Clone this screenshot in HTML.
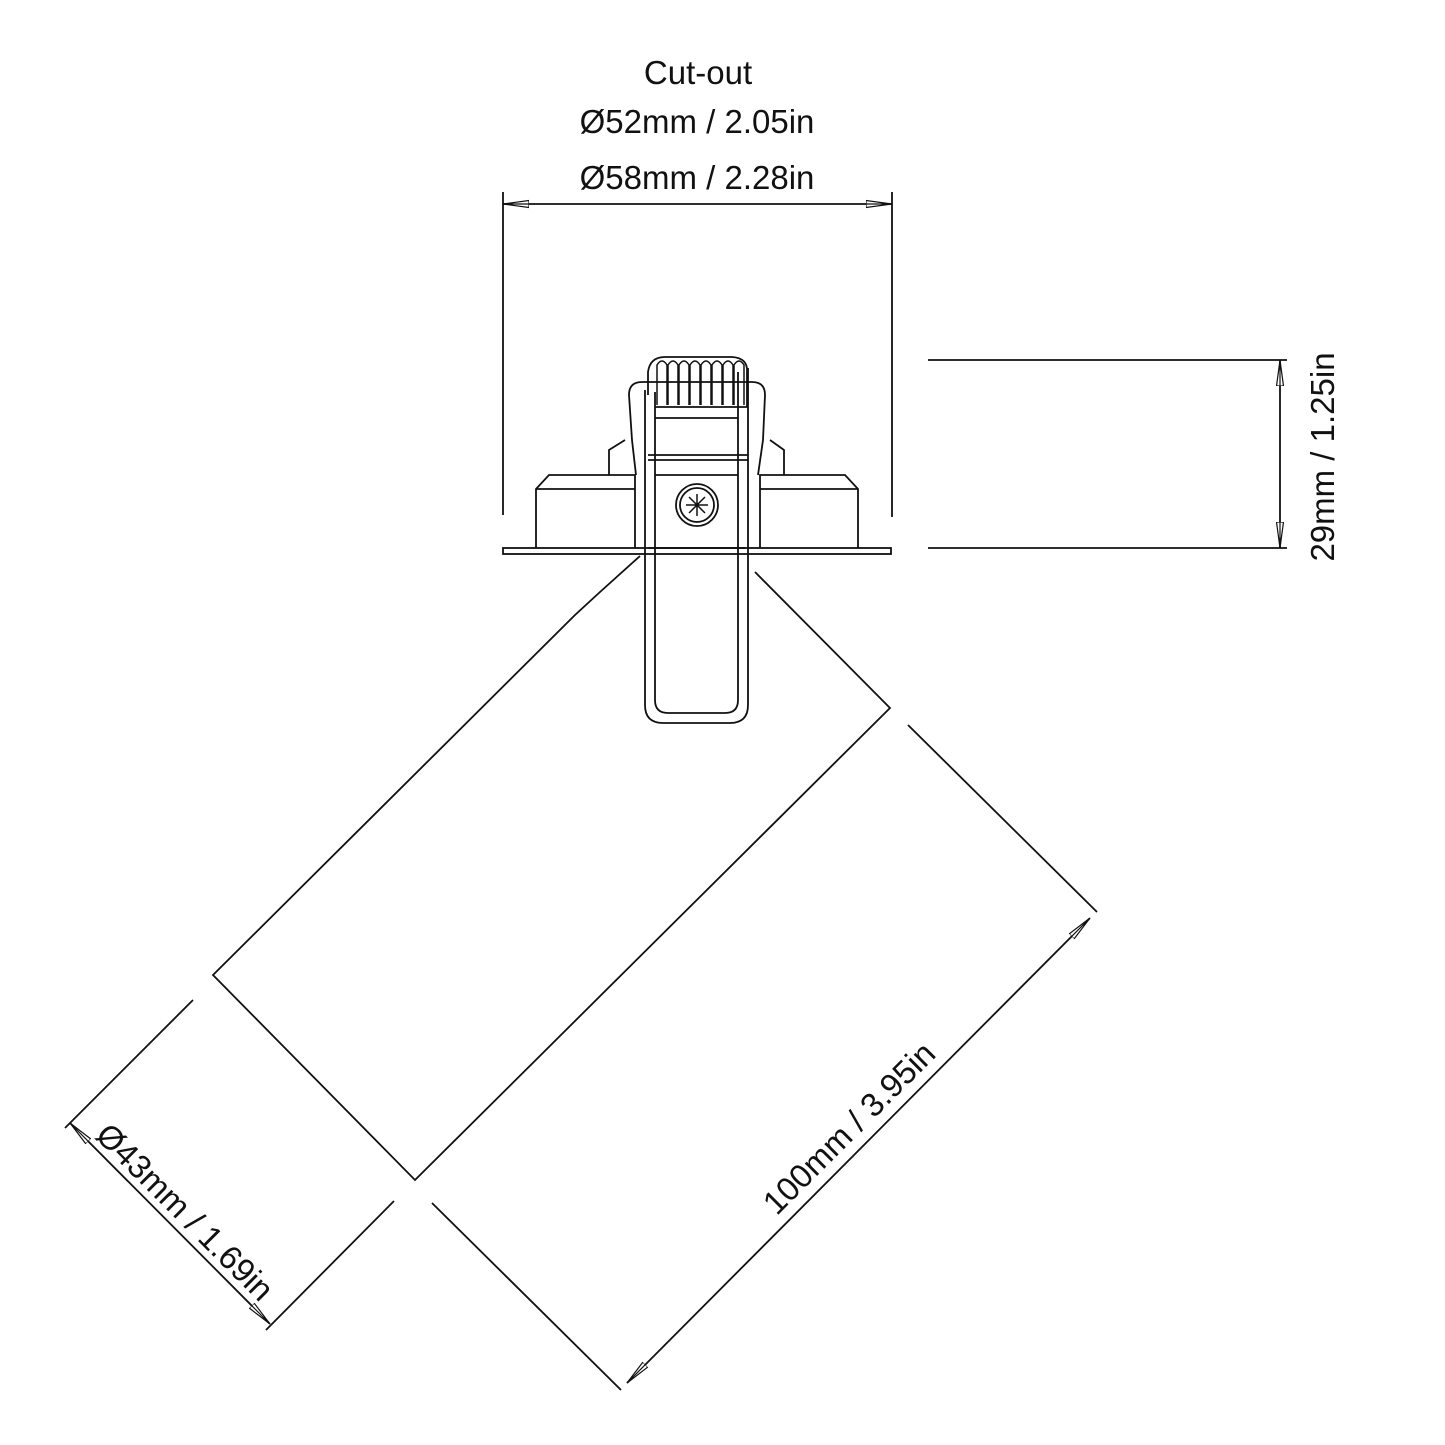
<!DOCTYPE html>
<html><head><meta charset="utf-8"><style>
html,body{margin:0;padding:0;background:#fff}
svg{display:block}
text{font-family:"Liberation Sans",sans-serif;font-size:33px;fill:#111}
</style></head><body>
<svg width="1445" height="1445" viewBox="0 0 1445 1445" xmlns="http://www.w3.org/2000/svg">
<defs>
<marker id="a" viewBox="-26 0 26 10" refX="0" refY="5" markerWidth="26" markerHeight="10" markerUnits="userSpaceOnUse" orient="auto-start-reverse">
<path d="M0,5 L-26,1.5 L-26,8.5 Z M0,5 L-26,5" fill="#fff" stroke="#111" stroke-width="1.2"/>
</marker>
</defs>
<g stroke="#111" stroke-width="1.8" fill="none">
<line x1="503" y1="192" x2="503" y2="515"/>
<line x1="892" y1="192" x2="892" y2="517"/>
<line x1="503" y1="204" x2="892" y2="204" marker-start="url(#a)" marker-end="url(#a)"/>
<line x1="928" y1="360" x2="1287" y2="360"/>
<line x1="928" y1="548" x2="1287" y2="548"/>
<line x1="1280" y1="360" x2="1280" y2="548" marker-start="url(#a)" marker-end="url(#a)"/>
<rect x="503" y="548" width="388" height="6" fill="#fff"/>
<path d="M536,548 L536,489 L549,475 L635,475 L635,548"/>
<line x1="536" y1="489" x2="635" y2="489"/>
<path d="M858,548 L858,489 L845,475 L760,475 L760,548"/>
<line x1="858" y1="489" x2="760" y2="489"/>
<path d="M609,475 L609,450 L625,440 M784,475 L784,450 L770,440"/>
<path d="M636,475 L632,440 L629,395 Q629,382 642,382 L752,382 Q765,382 765,395 L763,440 L758,475"/>
<line x1="648" y1="455" x2="748" y2="455"/>
<line x1="648" y1="460" x2="748" y2="460"/>
<line x1="655" y1="475" x2="738" y2="475"/>
<line x1="655" y1="418" x2="738" y2="418"/>
<path d="M648,395 L648,372 Q650,357 665,357 L732,357 Q748,358 747,372 L747,407 L655,407"/>
<g stroke-width="1.5">
<path d="M657,405 L657,365 Q662,357 667,365 L667,405 M668,405 L668,365 Q673,357 678,365 L678,405 M679,405 L679,365 Q684,357 689,365 L689,405 M690,405 L690,365 Q695,357 700,365 L700,405 M701,405 L701,365 Q706,357 711,365 L711,405 M712,405 L712,365 Q717,357 722,365 L722,405 M723,405 L723,365 Q728,357 733,365 L733,405 M734,405 L734,365 Q739,357 744,365 L744,405"/>
</g>
<path d="M645,390 L645,705 Q645,723 663,723 L730,723 Q748,723 748,705 L748,368"/>
<path d="M655,392 L655,700 Q655,713 668,713 L725,713 Q738,713 738,700 L738,372"/>
<line x1="648" y1="548" x2="745" y2="548"/>
<circle cx="697" cy="505" r="21"/>
<circle cx="697" cy="505" r="17"/>
<path d="M697,494 L697,516 M686,505 L708,505 M689,497 L705,513 M705,497 L689,513" stroke-width="1.5"/>
<path d="M640,556 L600,592 L575,615 L213,975 L415,1180 L890,708 L755,572"/>
<line x1="432" y1="1203" x2="621" y2="1390"/>
<line x1="908" y1="725" x2="1097" y2="912"/>
<line x1="627" y1="1383" x2="1090" y2="918" marker-start="url(#a)" marker-end="url(#a)"/>
<line x1="193" y1="1000" x2="65" y2="1128"/>
<line x1="394" y1="1201" x2="266" y2="1330"/>
<line x1="70" y1="1123" x2="270" y2="1324" marker-start="url(#a)" marker-end="url(#a)"/>
</g>
<g text-anchor="middle">
<text x="698" y="84">Cut-out</text>
<text x="697" y="133">Ø52mm / 2.05in</text>
<text x="697" y="189">Ø58mm / 2.28in</text>
<text transform="translate(1334,457) rotate(-90)">29mm / 1.25in</text>
<text transform="translate(857,1136) rotate(-45)">100mm / 3.95in</text>
<text transform="translate(177,1220) rotate(45)">Ø43mm / 1.69in</text>
</g>
</svg>
</body></html>
